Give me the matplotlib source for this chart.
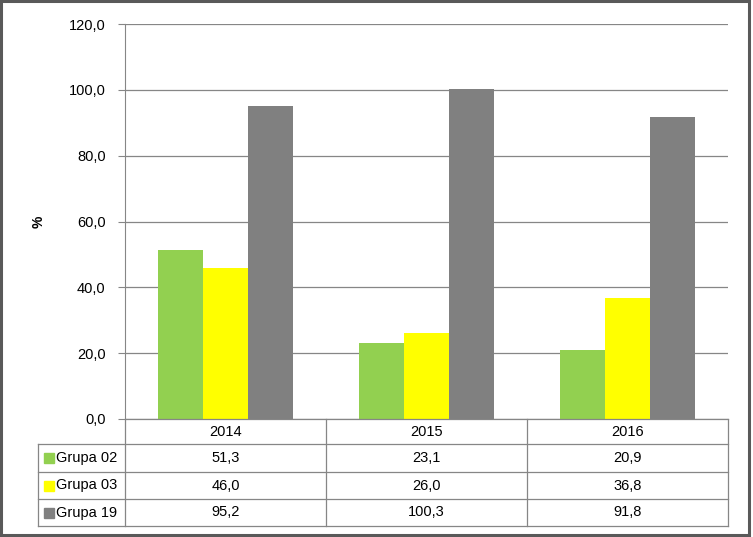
import numpy as np
import matplotlib.pyplot as plt
from matplotlib.patches import Rectangle

years = ["2014", "2015", "2016"]
series = ["Grupa 02", "Grupa 03", "Grupa 19"]
grupa02 = [51.3, 23.1, 20.9]
grupa03 = [46.0, 26.0, 36.8]
grupa19 = [95.2, 100.3, 91.8]
colors = ["#92D050", "#FFFF00", "#808080"]
values = [grupa02, grupa03, grupa19]

W, H = 753, 537
fig = plt.figure(figsize=(W / 100, H / 100), dpi=100)
plt.rcParams['font.family'] = ['Liberation Sans', 'DejaVu Sans']

def fx(px):
    return px / W

def fy(py):
    return 1 - py / H

# plot area in pixels
x0, x1, y0, y1 = 125, 728, 24, 419
ax = fig.add_axes([fx(x0), fy(y1), fx(x1) - fx(x0), fy(y0) - fy(y1)])

x = np.arange(len(years))
bw = 0.223
for i, (vals, c) in enumerate(zip(values, colors)):
    ax.bar(x + (i - 1) * bw, vals, bw, color=c, zorder=3)

ax.set_xlim(-0.5, 2.5)
ax.set_ylim(0, 120)
ax.set_yticks(np.arange(0, 121, 20))
ax.set_yticklabels([f"{v:.1f}".replace(".", ",") for v in np.arange(0, 121, 20)], fontsize=10.5)
ax.yaxis.grid(True, color="#868686", lw=0.9, zorder=0)
ax.set_xticks([])
for s in ["top", "right", "bottom"]:
    ax.spines[s].set_visible(False)
ax.spines["left"].set_color("#868686")
ax.tick_params(axis="y", length=5, color="#868686", pad=9)

# data table
tab = fig.add_axes([0, 0, 1, 1], facecolor="none")
tab.set_xlim(0, W)
tab.set_ylim(H, 0)
tab.axis("off")
tab.text(39, 222, "%", rotation=90, ha="center", va="center", fontsize=10, fontweight="bold")
lc = "#868686"
col_x = [x0 + k * (x1 - x0) / 3 for k in range(4)]
rows_y = [419, 444, 472, 499, 526]
left = 38
# horizontal lines
tab.plot([x0, x1], [rows_y[0], rows_y[0]], color=lc, lw=0.9)
for yy in rows_y[1:]:
    tab.plot([left, x1], [yy, yy], color=lc, lw=0.9)
for xx in col_x:
    tab.plot([xx, xx], [rows_y[0], rows_y[-1]], color=lc, lw=0.9)
tab.plot([left, left], [rows_y[1], rows_y[-1]], color=lc, lw=0.9)

for k, yr in enumerate(years):
    cx = (col_x[k] + col_x[k + 1]) / 2
    tab.text(cx, (rows_y[0] + rows_y[1]) / 2, yr, ha="center", va="center", fontsize=10.5)
for r, (name, vals, c) in enumerate(zip(series, values, colors)):
    cy = (rows_y[r + 1] + rows_y[r + 2]) / 2
    tab.add_patch(Rectangle((44, cy - 5), 10, 10, color=c))
    tab.text(56, cy, name, ha="left", va="center", fontsize=10.5)
    for k, v in enumerate(vals):
        cx = (col_x[k] + col_x[k + 1]) / 2
        tab.text(cx, cy, f"{v:.1f}".replace(".", ","), ha="center", va="center", fontsize=10.5)

# outer border
tab.add_patch(Rectangle((1, 1), W - 5, H - 3, fill=False, edgecolor="#595959", lw=2.2))

fig.savefig("out.png", dpi=100)
